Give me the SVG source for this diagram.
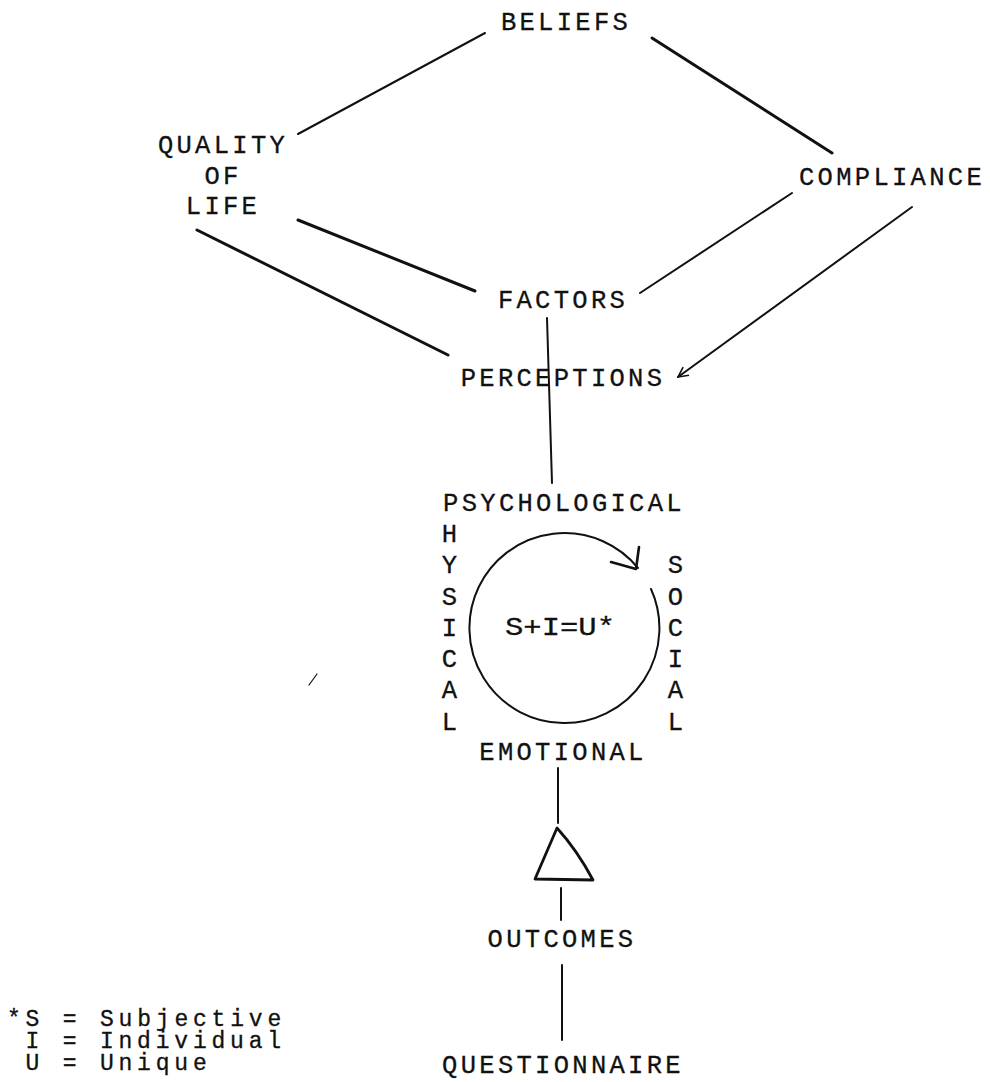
<svg xmlns="http://www.w3.org/2000/svg" width="990" height="1082" viewBox="0 0 990 1082">
<defs>
<style>
text{font-family:"Liberation Mono","Courier New",monospace;font-size:25.5px;letter-spacing:3.3px;fill:#111;stroke:#111;stroke-width:0.3}
.c{text-anchor:middle}
.lg{font-size:23px;letter-spacing:4.8px}
.ln{stroke:#111;fill:none;stroke-linecap:round;stroke-linejoin:round}
.thick{stroke-width:3}
.thin{stroke-width:2}
</style>
<marker id="arr" viewBox="0 0 12 12" refX="11" refY="6" markerWidth="12" markerHeight="12" markerUnits="userSpaceOnUse" orient="auto">
<path d="M1 1 L11 6 L1 11" fill="none" stroke="#111" stroke-width="1.6"/>
</marker>
</defs>
<rect width="990" height="1082" fill="#fff"/>
<g id="connectors">
<line class="ln thin" x1="485" y1="33" x2="298" y2="134"/>
<line class="ln thick" x1="652" y1="38" x2="832" y2="153"/>
<line class="ln thick" x1="298" y1="220" x2="475" y2="291"/>
<line class="ln thick" x1="197" y1="230" x2="448" y2="355"/>
<line class="ln thin" x1="792" y1="193" x2="640" y2="293"/>
<line class="ln thin" x1="912" y1="207" x2="678" y2="377" marker-end="url(#arr)"/>
<line class="ln thin" x1="547" y1="318" x2="552" y2="483"/>
<line class="ln thin" x1="558" y1="768" x2="558" y2="823"/>
<line class="ln thin" x1="561" y1="888" x2="561" y2="920"/>
<line class="ln thin" x1="562" y1="965" x2="562" y2="1040"/>
<line class="ln" stroke-width="1.2" x1="309" y1="685" x2="317" y2="674"/>
</g>
<g id="beliefs"><text class="c" x="566" y="30">BELIEFS</text></g>
<g id="quality-of-life">
<text class="c" x="223" y="153">QUALITY</text>
<text class="c" x="223" y="184">OF</text>
<text class="c" x="223" y="214">LIFE</text>
</g>
<g id="compliance"><text class="c" x="892" y="185">COMPLIANCE</text></g>
<g id="factors"><text class="c" x="563" y="308">FACTORS</text></g>
<g id="perceptions"><text class="c" x="563" y="386">PERCEPTIONS</text></g>
<g id="cycle">
<text class="c" x="564" y="511">PSYCHOLOGICAL</text>
<text class="c" x="451" y="542">H</text>
<text class="c" x="451" y="573">Y</text>
<text class="c" x="451" y="605">S</text>
<text class="c" x="451" y="636">I</text>
<text class="c" x="451" y="667">C</text>
<text class="c" x="451" y="698">A</text>
<text class="c" x="451" y="730">L</text>
<text class="c" x="677" y="573">S</text>
<text class="c" x="677" y="605">O</text>
<text class="c" x="677" y="636">C</text>
<text class="c" x="677" y="667">I</text>
<text class="c" x="677" y="698">A</text>
<text class="c" x="677" y="730">L</text>
<text class="c" x="563" y="760">EMOTIONAL</text>
<path class="ln thin" d="M651 589 A95 95 0 1 1 638 568"/>
<polyline class="ln" stroke-width="2.6" points="611,562 636,569 639,547"/>
<text x="505" y="635" style="letter-spacing:0" textLength="110" lengthAdjust="spacingAndGlyphs">S+I=U*</text>
</g>
<g id="triangle">
<path class="ln" stroke-width="2.8" d="M557 828 L535 879 L593 880 Q577 850 557 828 Z"/>
</g>
<g id="outcomes"><text class="c" x="562" y="947">OUTCOMES</text></g>
<g id="questionnaire"><text class="c" x="563" y="1073">QUESTIONNAIRE</text></g>
<g id="legend">
<text class="lg" x="7" y="1026">*S = Subjective</text>
<text class="lg" x="25.5" y="1048">I = Individual</text>
<text class="lg" x="25.5" y="1070">U = Unique</text>
</g>
</svg>
